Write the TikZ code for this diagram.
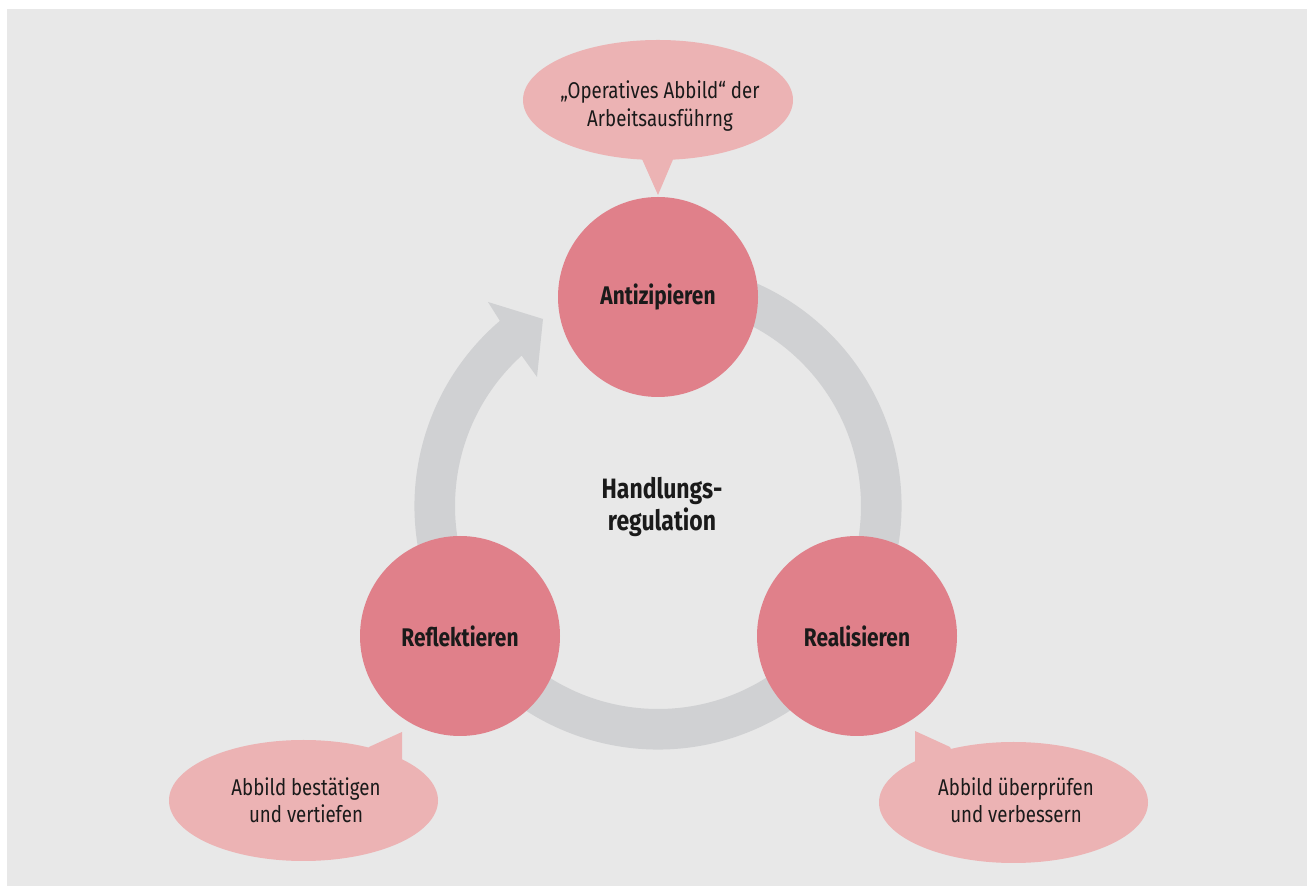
\documentclass[tikz,border=0pt]{standalone}
\usepackage{fontspec}
\setmainfont{Fira Sans}[FakeStretch=0.82]
\begin{document}
\begin{tikzpicture}[x=1pt,y=1pt,
  bubble/.style={fill=bubblecol},
  stage/.style={circle,fill=stagecol,minimum size=200pt,inner sep=0pt,
    font=\bfseries\fontsize{25.5}{30}\selectfont,text=inkcol},
  bubbletext/.style={align=center,text=inkcol,font=\fontsize{22.8}{27.5}\selectfont},
]
\definecolor{bgcol}{HTML}{E8E8E8}
\definecolor{ringcol}{HTML}{D0D1D3}
\definecolor{stagecol}{HTML}{E0808A}
\definecolor{bubblecol}{HTML}{ECB3B4}
\definecolor{inkcol}{HTML}{1A1A1A}

% page and grey panel
\useasboundingbox (0,0) rectangle (1307,886);
\fill[white] (0,0) rectangle (1307,886);
\fill[bgcol] (7,0) rectangle (1307,877);

% cycle ring with block arrow head
\coordinate (ctr) at (658,380);
\coordinate (wingout) at (488,584);
\coordinate (tip) at (543,567);
\coordinate (wingin) at (537,509);
\fill[ringcol]
  ([shift={(75:243.5pt)}]ctr) arc[start angle=75,end angle=-229.5,radius=243.5pt]
  -- (wingout) -- (tip) -- (wingin)
  -- ([shift={(132.2:203pt)}]ctr) arc[start angle=-227.8,end angle=75,radius=203pt]
  -- cycle;

% speech bubbles
\fill[bubble] (658,786) ellipse[x radius=135pt,y radius=60pt];
\coordinate (tpl) at (638,736);
\coordinate (tpr) at (677,736);
\coordinate (tpt) at (658,691);
\fill[bubble] (tpl) -- (tpt) -- (tpr) -- cycle;

\fill[bubble] (303.5,85.5) ellipse[x radius=134.5pt,y radius=60.5pt];
\coordinate (lpa) at (369,139);
\coordinate (lpt) at (402,154);
\coordinate (lpb) at (402,120);
\coordinate (lpc) at (355,115);
\fill[bubble] (lpa) -- (lpt) -- (lpb) -- (lpc) -- cycle;

\fill[bubble] (1013.5,83.5) ellipse[x radius=134.5pt,y radius=60.5pt];
\coordinate (rpa) at (950,139);
\coordinate (rpt) at (915,155);
\coordinate (rpb) at (915,120);
\coordinate (rpc) at (960,115);
\fill[bubble] (rpa) -- (rpt) -- (rpb) -- (rpc) -- cycle;

% stages
\node[stage] (anti) at (658,589) {Antizipieren};
\node[stage] (real) at (857,250) {Realisieren};
\node[stage] (refl) at (460,250) {Reflektieren};

% centre label
\node[align=center,text=inkcol,font=\bfseries\fontsize{28}{32}\selectfont]
  (core) at (662,379) {Handlungs-\\regulation};

% bubble texts
\node[bubbletext] (optext) at (660,780) {„Operatives Abbild“ der\\Arbeitsausführng};
\node[bubbletext] (lefttext) at (306,86) {Abbild bestätigen\\und vertiefen};
\node[bubbletext] (righttext) at (1016,86) {Abbild überprüfen\\und verbessern};
\end{tikzpicture}
\end{document}
